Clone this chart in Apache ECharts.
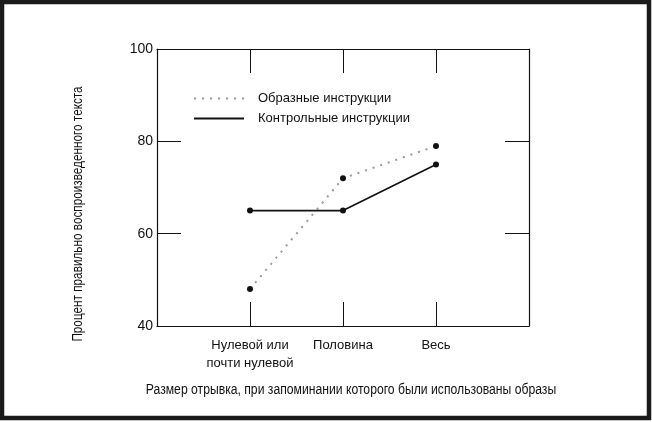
<!DOCTYPE html>
<html>
<head>
    <meta charset="utf-8">
    <script src="https://cdn.jsdelivr.net/npm/echarts@6/dist/echarts.min.js"></script>
    <style>
        html, body { margin: 0; padding: 0; background: #fff; }
    </style>
</head>
<body>
<div id="main" style="width: 652px;height:422px"></div>

<script type="text/javascript">
    // категории по оси X (позиции 1..3 на оси 0..4)
    var categories = ['Нулевой или\nпочти нулевой', 'Половина', 'Весь'];
    // значения серий, % правильно воспроизведенного текста
    var imageryValues = [48, 72, 79];
    var controlValues = [65, 65, 75];
    var seriesNames = ['Образные инструкции', 'Контрольные инструкции'];
    var yTicks = [40, 60, 80, 100];

    var font = "'Liberation Sans Narrow', 'Liberation Sans', sans-serif";

    function toPoints(values) {
        return values.map(function (v, i) { return [i + 1, v]; });
    }

    var chartDom = document.getElementById('main');
    var myChart = echarts.init(chartDom);
    var option;

    var tickStyle = { show: true, inside: true, length: 24, lineStyle: { color: '#111', width: 1 } };
    // onZero: false, иначе правая ось уезжает к x=0
    var lineStyleAxis = { show: true, onZero: false, lineStyle: { color: '#111', width: 1.2 } };

    option = {
        backgroundColor: '#fff',
        animation: false,
        grid: { left: 157, top: 49, right: 123, bottom: 96 },
        legend: {
            orient: 'vertical',
            left: 188,
            top: 87,
            itemWidth: 50,
            itemHeight: 14,
            itemGap: 7,
            itemStyle: { opacity: 0 },
            textStyle: { fontFamily: font, fontSize: 13, color: '#111', padding: [0, 0, 0, 9] },
            data: seriesNames
        },
        xAxis: [
            {
                type: 'value',
                min: 0,
                max: 4,
                interval: 1,
                axisLine: lineStyleAxis,
                axisTick: tickStyle,
                splitLine: { show: false },
                axisLabel: {
                    margin: 10,
                    fontFamily: font,
                    fontSize: 13,
                    color: '#111',
                    lineHeight: 18,
                    formatter: function (v) {
                        return categories[v - 1] || '';
                    }
                }
            },
            {
                type: 'value',
                position: 'top',
                min: 0,
                max: 4,
                interval: 1,
                axisLine: lineStyleAxis,
                axisTick: tickStyle,
                splitLine: { show: false },
                axisLabel: { show: false }
            }
        ],
        yAxis: [
            {
                type: 'value',
                min: yTicks[0],
                max: yTicks[yTicks.length - 1],
                interval: 20,
                axisLine: lineStyleAxis,
                axisTick: tickStyle,
                splitLine: { show: false },
                axisLabel: { margin: 4, fontFamily: font, fontSize: 14, color: '#111' }
            },
            {
                type: 'value',
                position: 'right',
                min: yTicks[0],
                max: yTicks[yTicks.length - 1],
                interval: 20,
                axisLine: lineStyleAxis,
                axisTick: tickStyle,
                splitLine: { show: false },
                axisLabel: { show: false }
            }
        ],
        graphic: [
            {
                type: 'rect',
                shape: { x: 2, y: 2, width: 647, height: 416 },
                style: { fill: 'none', stroke: '#1a1a1a', lineWidth: 4.5 },
                silent: true
            },
            {
                type: 'text',
                x: 78,
                y: 214,
                rotation: Math.PI / 2,
                scaleX: 0.84,
                style: {
                    text: 'Процент правильно воспроизведенного текста',
                    fontFamily: font,
                    fontSize: 14,
                    fill: '#111',
                    align: 'center',
                    verticalAlign: 'middle'
                }
            },
            {
                type: 'text',
                x: 351,
                y: 390,
                scaleX: 0.87,
                style: {
                    text: 'Размер отрывка, при запоминании которого были использованы образы',
                    fontFamily: font,
                    fontSize: 14,
                    fill: '#111',
                    align: 'center',
                    verticalAlign: 'middle'
                }
            }
        ],
        series: [
            {
                name: seriesNames[0],
                type: 'line',
                data: toPoints(imageryValues),
                symbol: 'circle',
                symbolSize: 6,
                itemStyle: { color: '#111' },
                lineStyle: { color: '#999', width: 2, type: [2, 6] },
                z: 3
            },
            {
                name: seriesNames[1],
                type: 'line',
                data: toPoints(controlValues),
                symbol: 'circle',
                symbolSize: 6,
                itemStyle: { color: '#111' },
                lineStyle: { color: '#111', width: 1.6 },
                z: 4
            }
        ]
    };

    option && myChart.setOption(option);
</script>
</body>
</html>
